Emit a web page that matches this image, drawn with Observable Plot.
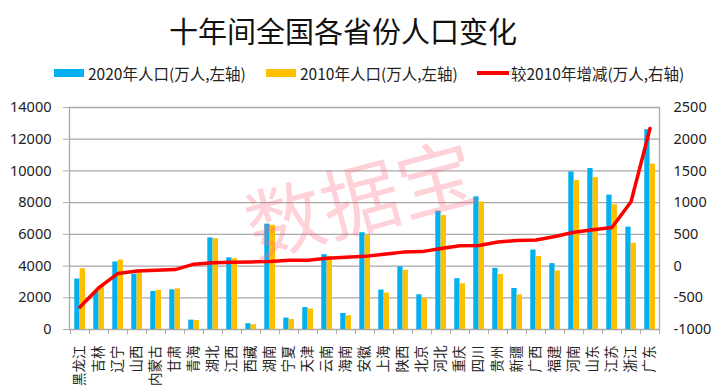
<!DOCTYPE html>
<html>
<head>
<meta charset="utf-8">
<script src="https://cdn.jsdelivr.net/npm/d3@7"></script>
<script src="https://cdn.jsdelivr.net/npm/@observablehq/plot@0.6"></script>
<style>
  html, body { margin: 0; padding: 0; background: #fff; }
  #wrap { position: relative; width: 719px; height: 392px; overflow: hidden; font-family: "Noto Sans CJK SC", "Noto Sans", sans-serif; }
  #title { position: absolute; left: 0; width: 686px; top: 10px; text-align: center; font-size: 29px; line-height: 40px; color: #111; }
  .lg { position: absolute; top: 62px; height: 22px; line-height: 22px; font-size: 15.5px; color: #222; white-space: nowrap; }
  .sw { position: absolute; }
  #chart { position: absolute; left: 0; top: 92px; }
</style>
</head>
<body>
<div id="wrap">
  <div id="title">十年间全国各省份人口变化</div>
  <div class="sw" style="left:54px; top:69px; width:30px; height:8px; background:#00b0f0"></div>
  <div class="lg" style="left:88px">2020年人口(万人,左轴)</div>
  <div class="sw" style="left:266px; top:69px; width:30px; height:8px; background:#ffc000"></div>
  <div class="lg" style="left:300px">2010年人口(万人,左轴)</div>
  <div class="sw" style="left:477px; top:71px; width:32px; height:4px; background:#ff0000"></div>
  <div class="lg" style="left:511px">较2010年增减(万人,右轴)</div>
  <div id="chart"></div>
</div>
<script>
const provinces = ["黑龙江","吉林","辽宁","山西","内蒙古","甘肃","青海","湖北","江西","西藏","湖南","宁夏","天津","云南","海南","安徽","上海","陕西","北京","河北","重庆","四川","贵州","新疆","广西","福建","河南","山东","江苏","浙江","广东"];
const pop2020 = [3185,2407,4259,3492,2405,2502,592,5775,4519,365,6644,720,1387,4721,1008,6103,2487,3953,2189,7461,3205,8367,3856,2585,5013,4154,9937,10153,8475,6457,12601];
const pop2010 = [3831,2746,4375,3571,2471,2558,563,5724,4457,300,6570,630,1294,4597,867,5950,2302,3733,1961,7185,2885,8042,3475,2181,4603,3689,9403,9579,7866,5443,10432];
const change = [-646,-339,-116,-79,-66,-55,30,51,62,65,74,90,93,124,141,153,185,220,228,276,320,325,381,404,410,465,534,573,608,1014,2169];
const leftTicks = [0,2000,4000,6000,8000,10000,12000,14000];
const rightTicks = [-1000,-500,0,500,1000,1500,2000,2500];
const watermark = ["数据宝"];

// right axis (-1000..2500) is mapped onto the left axis (0..14000)
const toLeft = r => (r + 1000) * 4;
const fromLeft = v => v / 4 - 1000;

const data = provinces.map((p, i) => ({province: p, v2020: pop2020[i], v2010: pop2010[i], change: change[i]}));

const W = 719, H = 300, mL = 69, mR = 60, mT = 15, mB = 63;
const bw = (W - mL - mR) / provinces.length;
const gridColor = "#a9a9a9";
const axisFont = "Noto Sans, sans-serif";

const chart = Plot.plot({
  width: W, height: H,
  marginLeft: mL, marginRight: mR, marginTop: mT, marginBottom: mB,
  style: {fontFamily: "Noto Sans CJK SC, sans-serif", color: "#222", background: "#fff"},
  x: {type: "band", domain: provinces, padding: 0, axis: null},
  y: {domain: [0, 14000], axis: null},
  marks: [
    Plot.gridY(leftTicks, {stroke: gridColor, strokeOpacity: 1, strokeWidth: 1.3}),
    Plot.frame({anchor: "left", stroke: gridColor, strokeWidth: 1.3}),
    Plot.frame({anchor: "right", stroke: gridColor, strokeWidth: 1.3}),
    Plot.axisY({ticks: leftTicks, tickSize: 6, tickPadding: 12, stroke: gridColor, fontSize: 14.5, fontFamily: axisFont, label: null, tickFormat: d => String(d)}),
    Plot.axisY({anchor: "right", ticks: rightTicks.map(toLeft), tickSize: 0, tickPadding: 14, fontSize: 14.5, fontFamily: axisFont, label: null, tickFormat: v => String(fromLeft(v))}),
    Plot.axisX({tickSize: 5, tickFormat: () => "", stroke: gridColor, dx: -bw / 2, label: null}),
    Plot.axisX({ticks: [provinces[provinces.length - 1]], tickSize: 5, tickFormat: () => "", stroke: gridColor, dx: bw / 2, label: null}),
    Plot.barY(data, {x: "province", y: "v2020", fill: "#00b0f0", insetLeft: 4.3, insetRight: bw - 9.6}),
    Plot.barY(data, {x: "province", y: "v2010", fill: "#ffc000", insetLeft: 9.6, insetRight: bw - 15}),
    Plot.line(data, {x: "province", y: d => toLeft(d.change), stroke: "#ff0000", strokeWidth: 3.5, strokeLinecap: "round", strokeLinejoin: "round"}),
    Plot.text(data, {x: "province", text: "province", frameAnchor: "bottom", rotate: -90, textAnchor: "end", lineAnchor: "middle", dy: 16, fontSize: 13.5, fill: "#222"}),
    Plot.text(watermark, {frameAnchor: "middle", text: d => d, rotate: -15, fontSize: 78, fill: "#ff6b80", fillOpacity: 0.3, dx: -3, dy: -15})
  ]
});
document.getElementById("chart").appendChild(chart);
</script>
</body>
</html>
